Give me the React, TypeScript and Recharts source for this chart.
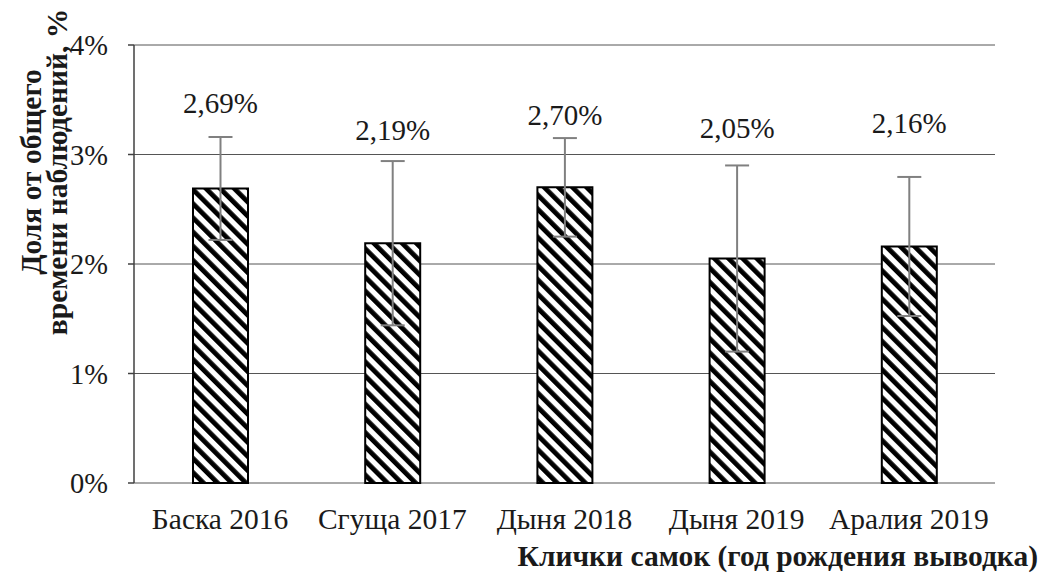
import React from "react";
import { BarChart, Bar, XAxis, YAxis, CartesianGrid, ErrorBar, LabelList } from "recharts";

const categories = ["Баска 2016", "Сгуща 2017", "Дыня 2018", "Дыня 2019", "Аралия 2019"];
const shares = [2.69, 2.19, 2.7, 2.05, 2.16];
const errors = [0.47, 0.75, 0.45, 0.85, 0.635];
const labelLevels = [3.38, 3.13, 3.27, 3.15, 3.2];
const yTicks = [0, 1, 2, 3, 4];
const edgeTicks = [0, 1, 2, 3, 4, 5];

const data = categories.map((name, i) => ({ name, value: shares[i], err: errors[i] }));

const FONT = "Liberation Serif, Times New Roman, serif";

const DataLabel = (props: any) => {
  const { x, y, width, height, value, index } = props;
  const perUnit = height / value;
  const ly = y + height - labelLevels[index] * perUnit;
  return (
    <text x={x + width / 2} y={ly} textAnchor="middle" style={{ fontFamily: FONT, fontSize: 29 }} fill="#1a1a1a">
      {value.toFixed(2).replace(".", ",") + "%"}
    </text>
  );
};

const YTitle = (props: any) => {
  const cy = 172;
  return (
    <g style={{ fontFamily: FONT, fontSize: 29.5, fontWeight: "bold" }} fill="#1a1a1a">
      <text x={41} y={cy} textAnchor="middle" transform={`rotate(-90 41 ${cy})`}>Доля от общего</text>
      <text x={67} y={cy} textAnchor="middle" transform={`rotate(-90 67 ${cy})`}>времени наблюдений, %</text>
    </g>
  );
};

const XTitle = (props: any) => {
  const vb = props.viewBox || {};
  return (
    <text x={vb.x + vb.width + 43} y={vb.y + 83} textAnchor="end" style={{ fontFamily: FONT, fontSize: 29.5, fontWeight: "bold" }} fill="#1a1a1a">
      Клички самок (год рождения выводка)
    </text>
  );
};

export default function App() {
  return (
    <div style={{ position: "absolute", left: 0, top: 0, width: 1041, height: 574, background: "#fff", fontFamily: FONT }}>
      <BarChart width={1041} height={574} data={data} margin={{ top: 45, right: 46, bottom: 0, left: 0 }} style={{ fontFamily: FONT }}>
        <defs>
          <pattern id="stripes" patternUnits="userSpaceOnUse" width={10} height={10} patternTransform="rotate(-45)">
            <rect x={0} y={0} width={10} height={10} fill="#ffffff" />
            <rect x={0} y={0} width={4.8} height={10} fill="#000000" />
          </pattern>
        </defs>
        <CartesianGrid horizontal vertical={false} stroke="#555555" strokeWidth={1} />
        <XAxis
          xAxisId="edges"
          type="number"
          domain={[0, 5]}
          ticks={edgeTicks}
          height={0}
          tick={false}
          tickSize={9}
          axisLine={{ stroke: "#404040", strokeWidth: 1.5 }}
          tickLine={{ stroke: "#404040", strokeWidth: 1.5 }}
        />
        <XAxis
          dataKey="name"
          height={91}
          axisLine={false}
          tickLine={false}
          tickSize={0}
          tickMargin={25}
          interval={0}
          tick={{ fontFamily: FONT, fontSize: 29.5, fill: "#1a1a1a" }}
          label={<XTitle />}
        />
        <YAxis
          width={134}
          domain={[0, 4]}
          ticks={yTicks}
          interval={0}
          tickFormatter={(v: number) => `${v}%`}
          tickSize={6}
          tickMargin={20}
          axisLine={{ stroke: "#404040", strokeWidth: 1.5 }}
          tickLine={{ stroke: "#404040", strokeWidth: 1.5 }}
          tick={{ fontFamily: FONT, fontSize: 28.5, fill: "#1a1a1a" }}
          label={<YTitle />}
        />
        <Bar dataKey="value" barSize={55} fill="url(#stripes)" stroke="#000" strokeWidth={2} isAnimationActive={false}>
          <ErrorBar dataKey="err" width={12} stroke="#808080" strokeWidth={2} direction="y" isAnimationActive={false} />
          <LabelList dataKey="value" content={<DataLabel />} />
        </Bar>
      </BarChart>
    </div>
  );
}
